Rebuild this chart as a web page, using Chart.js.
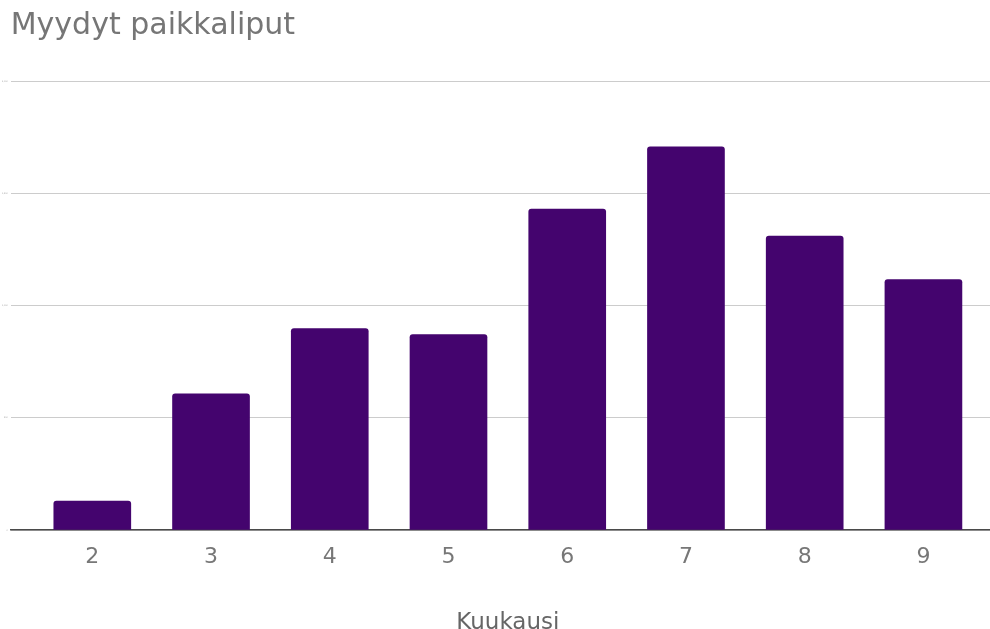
<!DOCTYPE html>
<html>
<head>
<meta charset="utf-8">
<script src="https://cdn.jsdelivr.net/npm/chart.js@4"></script>
<style>
  html, body { margin: 0; padding: 0; background: #fff; overflow: hidden; }
  #wrap { width: 1005px; height: 629px; }
</style>
</head>
<body>
<div id="wrap"><canvas id="tickets-chart" width="1005" height="629"></canvas></div>
<script>
// kuukaudet ja myydyt paikkaliput (luettu kuvasta)
var months = [2, 3, 4, 5, 6, 7, 8, 9];
var soldSeats = [129, 607, 897, 871, 1429, 1707, 1309, 1116];
var yTicks = [0, 500, 1000, 1500, 2000];

var points = months.map(function(m, i){
    return { x: m, y: soldSeats[i] };
});

var ctx = document.getElementById("tickets-chart");
var chart = new Chart(ctx, {
    type: 'bar',
    data: {
        datasets: [{
            label: 'Myydyt paikkaliput',
            data: points,
            backgroundColor: '#44046e',
            borderRadius: 3,
            barThickness: 77
        }]
    },
    options: {
        responsive: false,
        animation: false,
        layout: { padding: { left: -1, top: 0, right: 0, bottom: 0 } },
        plugins: {
            legend: { display: false },
            tooltip: { enabled: false },
            title: {
                display: true,
                text: 'Myydyt paikkaliput',
                align: 'start',
                fullSize: false,
                color: '#767676',
                font: { family: 'DejaVu Sans', size: 30, weight: 'normal' },
                padding: { top: 8, bottom: 37 }
            }
        },
        scales: {
            x: {
                type: 'linear',
                offset: false,
                min: 1.313,
                max: 9.687,
                grid: { display: false, drawTicks: false },
                border: { display: true, color: '#4a4a4a', width: 1.5 },
                ticks: {
                    stepSize: 1,
                    includeBounds: false,
                    color: '#777',
                    padding: 14,
                    font: { family: 'DejaVu Sans', size: 22 }
                },
                title: {
                    display: true,
                    text: 'Kuukausi',
                    color: '#666',
                    font: { family: 'DejaVu Sans', size: 23 },
                    padding: { top: 25, bottom: -8 }
                }
            },
            y: {
                min: yTicks[0],
                max: yTicks[yTicks.length - 1],
                afterBuildTicks: function(axis){
                    axis.ticks = yTicks.map(function(v){ return { value: v }; });
                },
                grid: { color: '#cccccc', lineWidth: 1, drawTicks: false },
                border: { display: false },
                ticks: {
                    color: '#999',
                    padding: 3,
                    font: { family: 'DejaVu Sans', size: 2 }
                }
            }
        }
    }
});
</script>
</body>
</html>
